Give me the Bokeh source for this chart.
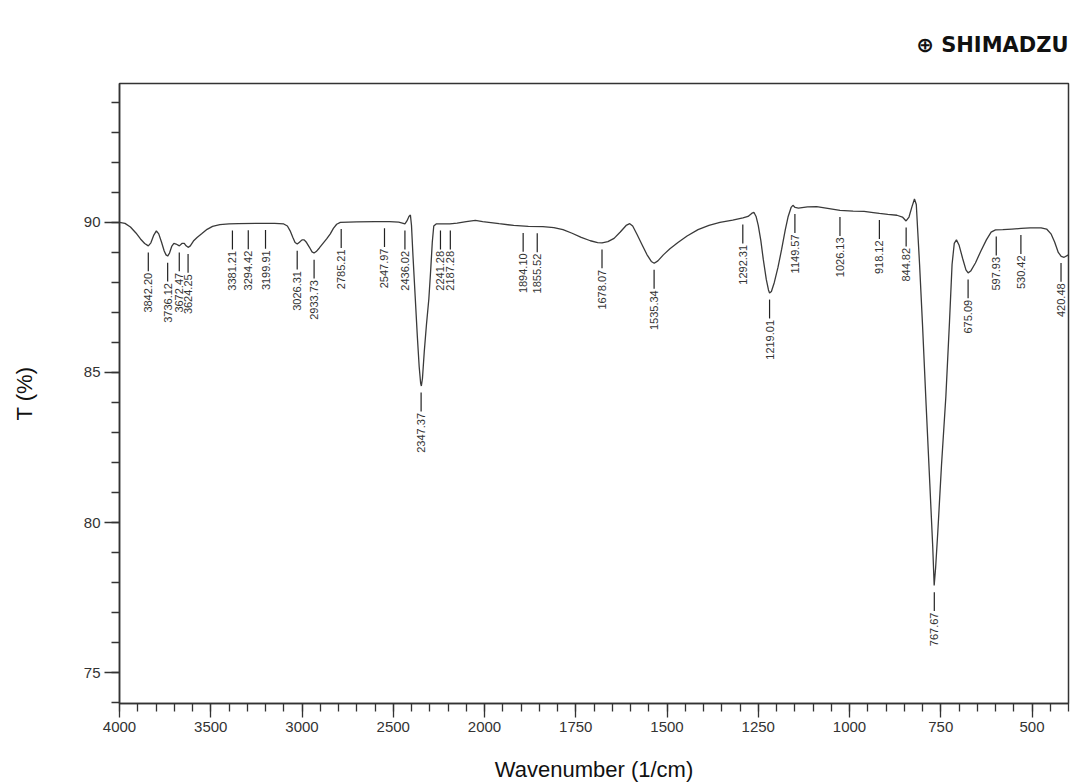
import numpy as np
from bokeh.plotting import figure
from bokeh.models import FixedTicker, Range1d
from bokeh.core.properties import value
from bokeh.embed import file_html
from bokeh.resources import INLINE

# ---------------- data ----------------
wavenumber = [4000, 3970, 3940, 3910, 3885, 3862, 3842, 3828, 3812, 3798, 3785, 3770, 3755, 3745,
              3736, 3726, 3714, 3702, 3690, 3672, 3658, 3645, 3635, 3624, 3612, 3595, 3575, 3550,
              3520, 3490, 3450, 3400, 3350, 3250, 3150, 3100, 3080, 3065, 3050, 3038, 3026, 3014,
              3000, 2988, 2975, 2960, 2945, 2934, 2922, 2905, 2885, 2865, 2845, 2828, 2810, 2790,
              2700, 2600, 2520, 2470, 2450, 2436, 2425, 2414, 2406, 2400, 2392, 2380, 2368, 2358,
              2350, 2346, 2340, 2330, 2318, 2305, 2295, 2286, 2278, 2265, 2230, 2190, 2150, 2100,
              2050, 2010, 1960, 1920, 1880, 1840, 1810, 1785, 1760, 1735, 1710, 1690, 1678, 1662,
              1645, 1628, 1612, 1602, 1594, 1582, 1568, 1555, 1543, 1535, 1525, 1510, 1492, 1470,
              1445, 1415, 1385, 1355, 1320, 1292, 1278, 1268, 1262, 1256, 1250, 1243, 1236, 1228,
              1222, 1219, 1214, 1206, 1196, 1186, 1176, 1168, 1160, 1155, 1149, 1140, 1115, 1090,
              1060, 1026, 990, 960, 935, 918, 895, 870, 855, 845, 837, 829, 822, 817, 813, 808,
              800, 790, 780, 772, 768, 764, 758, 748, 736, 726, 719, 713, 707, 700, 690, 681,
              675, 668, 655, 640, 625, 612, 600, 580, 555, 530, 505, 475, 460, 448, 438, 428,
              420, 412, 400]
transmittance = [90.00, 89.97, 89.85, 89.65, 89.45, 89.30, 89.22, 89.32, 89.58, 89.72, 89.62, 89.35, 89.05, 88.92,
                 88.88, 88.98, 89.20, 89.30, 89.28, 89.22, 89.30, 89.30, 89.22, 89.17, 89.22, 89.38, 89.50, 89.62,
                 89.77, 89.87, 89.93, 89.95, 89.96, 89.97, 89.97, 89.95, 89.88, 89.72, 89.50, 89.33, 89.28, 89.34,
                 89.42, 89.42, 89.33, 89.18, 89.02, 88.98, 89.03, 89.15, 89.30, 89.45, 89.62, 89.80, 89.94, 90.00,
                 90.02, 90.03, 90.03, 90.01, 89.98, 89.95, 90.05, 90.20, 90.25, 89.90, 88.90, 87.55, 86.20, 85.20,
                 84.65, 84.55, 84.80, 85.70, 86.60, 87.45, 88.40, 89.35, 89.88, 89.95, 89.95, 89.95, 89.98, 90.03,
                 90.07, 90.03, 89.96, 89.90, 89.87, 89.86, 89.83, 89.76, 89.64, 89.50, 89.39, 89.33, 89.32, 89.36,
                 89.47, 89.68, 89.90, 89.96, 89.88, 89.60, 89.25, 88.93, 88.70, 88.64, 88.72, 88.92, 89.12, 89.33,
                 89.55, 89.76, 89.90, 90.00, 90.08, 90.15, 90.20, 90.30, 90.34, 90.20, 89.90, 89.40, 88.75, 88.10,
                 87.75, 87.65, 87.70, 88.00, 88.50, 89.10, 89.75, 90.20, 90.50, 90.57, 90.50, 90.48, 90.52, 90.53,
                 90.47, 90.40, 90.38, 90.37, 90.33, 90.30, 90.27, 90.24, 90.18, 90.05, 90.18, 90.52, 90.78, 90.60, 89.70, 88.60,
                 86.60, 83.90, 81.30, 79.20, 77.90, 78.50, 79.70, 81.90, 84.20, 86.70, 88.60, 89.30, 89.42, 89.25, 88.80, 88.42,
                 88.32, 88.38, 88.65, 89.05, 89.42, 89.68, 89.75, 89.76, 89.78, 89.80, 89.82, 89.82, 89.78, 89.62, 89.35, 89.00,
                 88.87, 88.84, 88.92]

peak_wn = [3842.20, 3736.12, 3672.47, 3624.25, 3381.21, 3294.42, 3199.91, 3026.31, 2933.73, 2785.21,
           2547.97, 2436.02, 2347.37, 2241.28, 2187.28, 1894.10, 1855.52, 1678.07, 1535.34, 1292.31,
           1219.01, 1149.57, 1026.13, 918.12, 844.82, 767.67, 675.09, 597.93, 530.42, 420.48]
peak_T = [89.22, 88.88, 89.22, 89.17, 89.95, 89.96, 89.97, 89.28, 88.98, 90.00,
          90.03, 89.95, 84.55, 89.95, 89.95, 89.87, 89.86, 89.32, 88.64, 90.15,
          87.65, 90.50, 90.40, 90.30, 90.05, 77.90, 88.32, 89.75, 89.80, 88.87]
peak_labels = ["%.2f" % w for w in peak_wn]

x_tick_wn = [4000, 3500, 3000, 2500, 2000, 1750, 1500, 1250, 1000, 750, 500]
y_tick_vals = [75, 80, 85, 90]


def to_axis(wn):
    """Shimadzu-style piecewise scale: 4000-2000 compressed by 2, below 2000 full scale."""
    wn = np.asarray(wn, dtype=float)
    return np.where(wn >= 2000, (4000.0 - wn) / 2.0, 1000.0 + (2000.0 - wn))


xs = to_axis(wavenumber)
ys = np.asarray(transmittance)
pxs = to_axis(peak_wn)
pys = np.asarray(peak_T)

# ---------------- figure ----------------
p = figure(width=1075, height=784, output_backend="svg", toolbar_location=None,
           x_range=Range1d(0, 2600), y_range=Range1d(73.97, 94.63),
           min_border_left=119, min_border_right=7, min_border_top=83, min_border_bottom=81)

p.background_fill_color = "white"
p.border_fill_color = "white"
p.outline_line_color = "#333333"
p.outline_line_width = 1.5
p.xgrid.visible = False
p.ygrid.visible = False

# logo as title
p.title.text = "\u2295 SHIMADZU"
p.title.align = "right"
p.title.text_font = "DejaVu Sans"
p.title.text_font_style = "bold"
p.title.text_font_size = "21px"
p.title.text_color = "#111111"
p.title.standoff = 54

# x axis
xt = FixedTicker(ticks=[float(v) for v in to_axis(x_tick_wn)],
                 minor_ticks=[float(v) for v in np.arange(0, 2601, 50)])
p.xaxis.ticker = xt
p.xaxis.major_label_overrides = {float(d): str(w) for d, w in zip(to_axis(x_tick_wn), x_tick_wn)}
p.xaxis.axis_label = "Wavenumber (1/cm)"

# y axis
p.yaxis.ticker = FixedTicker(ticks=y_tick_vals, minor_ticks=list(range(74, 95)))
p.yaxis.axis_label = "T (%)"

for ax in (p.xaxis, p.yaxis):
    ax.axis_line_color = "#333333"
    ax.axis_line_width = 1.5
    ax.major_tick_line_color = "#333333"
    ax.minor_tick_line_color = "#333333"
    ax.major_tick_line_width = 1.3
    ax.minor_tick_line_width = 1.3
    ax.major_tick_in = 0
    ax.minor_tick_in = 0
    ax.major_label_text_font = "Liberation Sans"
    ax.major_label_text_font_size = "15px"
    ax.major_label_text_color = "#333333"
    ax.major_label_standoff = 4
    ax.axis_label_text_font = "Liberation Sans"
    ax.axis_label_text_font_size = "22px"
    ax.axis_label_text_font_style = "normal"
    ax.axis_label_text_color = "#111111"

p.xaxis.major_tick_out = 14
p.xaxis.minor_tick_out = 8
p.xaxis.axis_label_standoff = 22
p.yaxis.major_tick_out = 15
p.yaxis.minor_tick_out = 8
p.yaxis.axis_label_standoff = 44

# spectrum
p.line(xs, ys, line_color="#3a3a3a", line_width=1.3)

# peak markers and labels
p.segment(x0=pxs, y0=pys - 0.22, x1=pxs, y1=pys - 0.85, line_color="#222222", line_width=1.2)
p.text(x=pxs, y=pys - 0.9, text=peak_labels, angle=np.pi / 2,
       text_align="right", text_baseline="middle",
       text_font=value("Liberation Sans"), text_font_size="11px", text_color="#333333")

open("out.html", "w").write(file_html(p, INLINE))
